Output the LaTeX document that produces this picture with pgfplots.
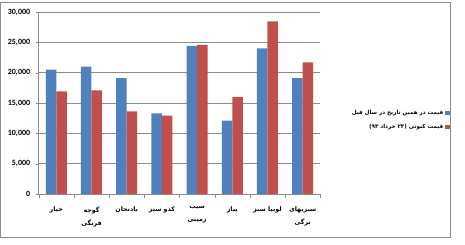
\documentclass[border=0pt]{standalone}
\usepackage{fontspec}
\setmainfont{Carlito}
\newfontfamily\arabicfont[Script=Arabic]{DejaVu Sans}
\TeXXeTstate=1
\usepackage{pgfplots}
\pgfplotsset{compat=1.18}
\definecolor{xlblue}{HTML}{4F81BD}
\definecolor{xlred}{HTML}{C0504D}
\definecolor{xlgrid}{HTML}{8C8C8C}
\newcommand{\ar}[1]{{\arabicfont\bfseries\beginR #1\endR}}
\begin{document}
\begin{tikzpicture}
\path[use as bounding box] (-38.7pt,-51pt) rectangle (426.3pt,194pt);
\draw[xlgrid, line width=0.8pt] (-38.2pt,-43.5pt) rectangle (411.8pt,192pt);
\begin{axis}[
    at={(0,0)}, anchor=south west,
    scale only axis,
    width=281.6pt, height=182pt,
    ybar=0pt, bar width=10.5pt,
    xmin=-0.5, xmax=7.5,
    ymin=0, ymax=30000,
    ytick={0,5000,...,30000},
    xtick={0,...,7},
    xticklabels={\ar{خیار}, {\ar{گوجه}\\\ar{فرنگی}}, \ar{بادنجان}, \ar{کدو سبز},
        {\ar{سیب}\\\ar{زمینی}}, \ar{پیاز}, \ar{لوبیا سبز}, {\ar{سبزیهای}\\\ar{برگی}}},
    minor xtick={-0.5,0.5,...,7.5},
    major x tick style={draw=none},
    minor x tick style={xlgrid},
    minor tick length=4pt,
    major tick length=3pt,
    tick align=outside,
    axis x line*=bottom, axis y line*=left,
    axis line style={xlgrid, line width=0.8pt},
    y tick style={xlgrid},
    ymajorgrids, grid style={xlgrid, line width=0.8pt},
    /pgf/number format/assume math mode=true,
    /pgf/number format/1000 sep={,},
    scaled y ticks=false,
    yticklabel style={font=\fontsize{8}{9}\selectfont\bfseries, xshift=-2pt},
    xticklabel style={font=\fontsize{6.3}{13}\selectfont, align=center, yshift=-6pt},
    legend style={at={(1.4606,0.4066)}, anchor=east, draw=none, fill=none,
        font=\fontsize{5.6}{8}\selectfont, row sep=4pt, inner sep=0pt},
    legend cell align=right,
    legend plot pos=right,
    legend image code/.code={\fill[#1] (0pt,-2.2pt) rectangle (4.5pt,2.2pt);},
]
\addplot[fill=xlblue, draw=none] coordinates {
    (0,20500) (1,21000) (2,19100) (3,13300) (4,24400) (5,12100) (6,24000) (7,19100)};
\addplot[fill=xlred, draw=none] coordinates {
    (0,16900) (1,17100) (2,13600) (3,12900) (4,24600) (5,15950) (6,28450) (7,21700)};
\legend{\ar{قیمت در همین تاریخ در سال قبل}, \ar{قیمت کنونی (۲۳ خرداد ۹۳)}}
\end{axis}
\end{tikzpicture}
\end{document}
